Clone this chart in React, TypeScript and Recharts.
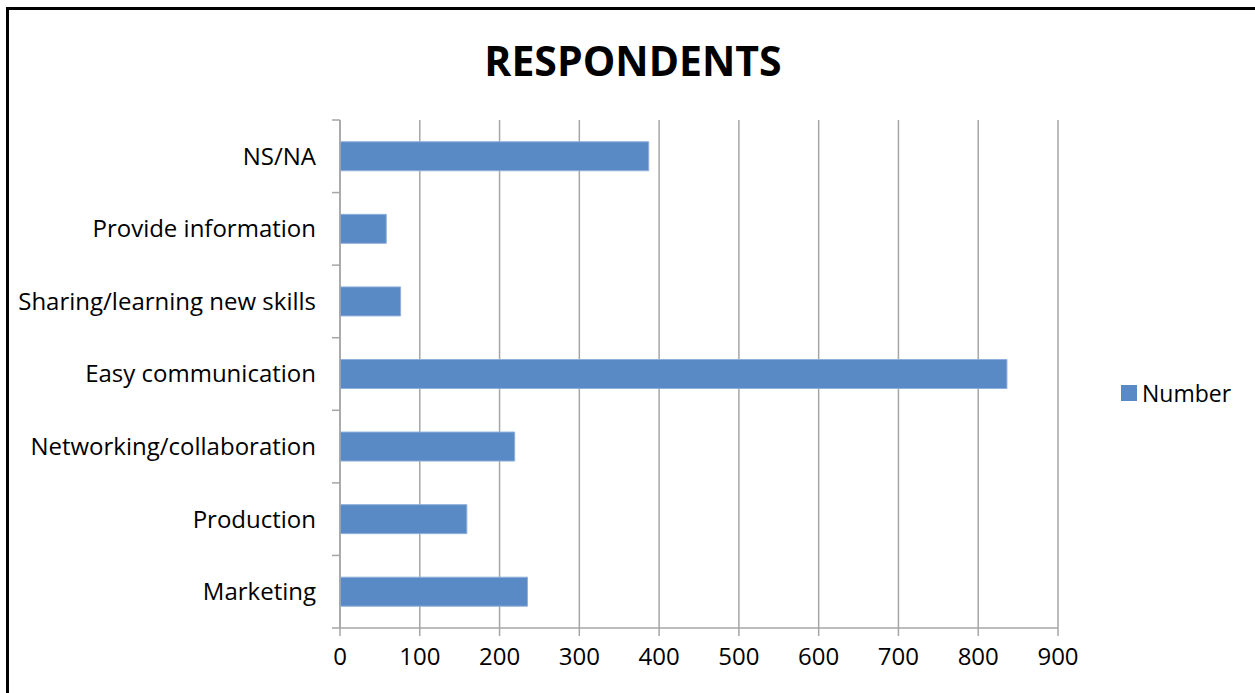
import { BarChart, Bar, XAxis, YAxis, CartesianGrid } from "recharts";

const categories = [
  "NS/NA",
  "Provide information",
  "Sharing/learning new skills",
  "Easy communication",
  "Networking/collaboration",
  "Production",
  "Marketing",
];
const numbers = [387, 58, 76, 836, 219, 159, 235];
const xTicks = [0, 100, 200, 300, 400, 500, 600, 700, 800, 900];
const seriesName = "Number";

const data = categories.map((name, i) => ({ name, [seriesName]: numbers[i] }));

const FONT = '"Open Sans", sans-serif';
const BAR = "#5A8AC6";
const GRID = "#A6A6A6";
const TICK_LEN = 8;
const LABEL_GAP = 24;

// category label plus tick marks on the band borders (above each band, and below the last one)
function CategoryTick(props: any) {
  const { x, y, payload, index, height } = props;
  const band = height / categories.length;
  const axisX = x + LABEL_GAP;
  const top = y - band / 2;
  const bottom = y + band / 2;
  return (
    <g>
      <line x1={axisX - TICK_LEN} x2={axisX} y1={top} y2={top} stroke={GRID} strokeWidth={1.5} />
      {index === categories.length - 1 && (
        <line x1={axisX - TICK_LEN} x2={axisX} y1={bottom} y2={bottom} stroke={GRID} strokeWidth={1.5} />
      )}
      <text x={x} y={y} dy="0.35em" textAnchor="end" fontSize={24} fill="#000" fontFamily={FONT}>
        {payload.value}
      </text>
    </g>
  );
}

export default function App() {
  return (
    <div
      style={{
        position: "absolute",
        left: 0,
        top: 0,
        width: 1255,
        height: 693,
        background: "#fff",
        overflow: "hidden",
        fontFamily: FONT,
      }}
    >
      {/* chart frame, only the top and left edges fall inside the page */}
      <div
        style={{
          position: "absolute",
          left: 6,
          top: 7,
          width: 1300,
          height: 800,
          border: "3px solid #000",
          boxSizing: "border-box",
        }}
      />
      <div
        style={{
          position: "absolute",
          left: 0,
          width: 1266,
          top: 34,
          textAlign: "center",
          fontSize: 41,
          fontWeight: 700,
          color: "#000",
          lineHeight: "52px",
        }}
      >
        RESPONDENTS
      </div>
      <BarChart
        width={1255}
        height={693}
        data={data}
        layout="vertical"
        margin={{ top: 120, right: 197, bottom: 0, left: 0 }}
        barCategoryGap="30%"
        style={{ position: "absolute", left: 0, top: 0 }}
      >
        <CartesianGrid vertical horizontal={false} stroke={GRID} strokeWidth={1.5} />
        <XAxis
          type="number"
          domain={[0, 900]}
          ticks={xTicks}
          interval={0}
          height={65}
          tickSize={TICK_LEN}
          tickMargin={12}
          axisLine={{ stroke: GRID, strokeWidth: 1.5 }}
          tickLine={{ stroke: GRID, strokeWidth: 1.5 }}
          tick={{ fontSize: 24, fill: "#000", fontFamily: FONT }}
        />
        <YAxis
          type="category"
          dataKey="name"
          width={340}
          interval={0}
          tickSize={0}
          tickMargin={LABEL_GAP}
          axisLine={{ stroke: GRID, strokeWidth: 1.5 }}
          tickLine={false}
          tick={<CategoryTick />}
        />
        <Bar
          dataKey={seriesName}
          fill={BAR}
          stroke="#8FB0DA"
          strokeWidth={1}
          isAnimationActive={false}
        />
      </BarChart>
      {/* legend */}
      <div
        style={{
          position: "absolute",
          left: 1121,
          top: 378,
          display: "flex",
          alignItems: "center",
          fontSize: 23,
          lineHeight: "30px",
          color: "#000",
        }}
      >
        <span style={{ width: 16, height: 16, background: BAR, marginRight: 5, display: "inline-block" }} />
        {seriesName}
      </div>
    </div>
  );
}
